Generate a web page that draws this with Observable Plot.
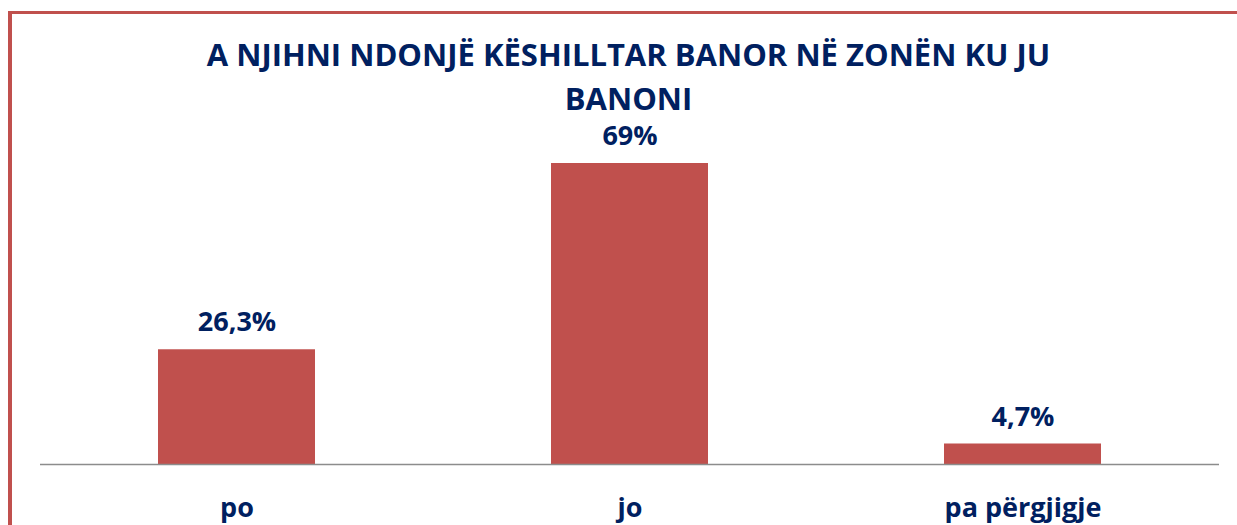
<!DOCTYPE html>
<html>
<head>
<meta charset="utf-8">
<script src="https://cdn.jsdelivr.net/npm/d3@7"></script>
<script src="https://cdn.jsdelivr.net/npm/@observablehq/plot@0.6"></script>
<style>
  html, body { margin: 0; padding: 0; background: #fff; }
  #wrap { position: relative; width: 1237px; height: 525px; overflow: hidden; }
  #frame { position: absolute; left: 8px; top: 11px; right: -10px; bottom: -10px;
           border-left: 4px solid #C0504D; border-top: 3px solid #C0504D; }
  #title { position: absolute; left: 0; width: 1257px; top: 32px; text-align: center;
           font-family: "Open Sans", sans-serif; font-weight: 700; font-size: 31px;
           line-height: 44px; color: #002060; }
  #chart { position: absolute; left: 0; top: 0; }
</style>
</head>
<body>
<div id="wrap">
  <div id="frame"></div>
  <div id="chart"></div>
  <div id="title">A NJIHNI NDONJË KËSHILLTAR BANOR NË ZONËN KU JU<br>BANONI</div>
</div>
<script>
const categories = ["po", "jo", "pa përgjigje"];
const values = [26.3, 69, 4.7];
const valueLabels = ["26,3%", "69%", "4,7%"];

const data = categories.map((c, i) => ({category: c, value: values[i], label: valueLabels[i]}));

const navy = "#002060";
const plot = Plot.plot({
  width: 1237,
  height: 525,
  marginTop: 163,
  marginBottom: 61,
  marginLeft: 40,
  marginRight: 18,
  style: {fontFamily: "'Open Sans', sans-serif", color: navy, background: "transparent"},
  x: {domain: categories, paddingInner: 0.6, paddingOuter: 0.3, label: null},
  y: {domain: [0, 69], axis: null},
  marks: [
    Plot.barY(data, {x: "category", y: "value", fill: "#C0504D"}),
    Plot.ruleY([0], {stroke: "#8c8c8c", strokeWidth: 1.5}),
    Plot.text(data, {x: "category", y: "value", text: "label", dy: -27, fill: navy,
      fontSize: 27, fontWeight: "bold"}),
    Plot.axisX({tickSize: 0, tickPadding: 33, fontSize: 27, fontWeight: "bold", fill: navy, label: null})
  ]
});
document.getElementById("chart").appendChild(plot);
</script>
</body>
</html>
